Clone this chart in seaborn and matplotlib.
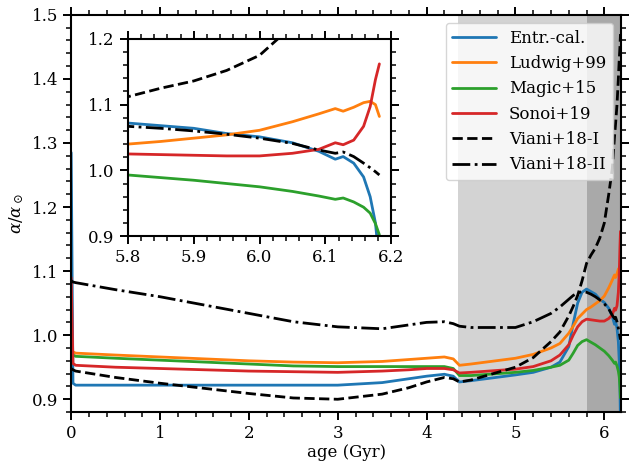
import numpy as np
import pandas as pd
import matplotlib
matplotlib.use('Agg')
import matplotlib.pyplot as plt
import seaborn as sns
from matplotlib.ticker import MultipleLocator, FormatStrFormatter

# stellar age grid (Gyr), shared by all models
age = [0.0, 0.02, 0.05, 0.5, 1.0, 1.5, 2.0, 2.5, 3.0, 3.5, 3.8, 4.0, 4.2, 4.3, 4.37,
       4.5, 5.0, 5.2, 5.4, 5.5, 5.6, 5.65, 5.7, 5.75, 5.8, 5.85, 5.9, 5.95, 6.0, 6.05,
       6.09, 6.115, 6.127, 6.143, 6.158, 6.168, 6.176, 6.182]

# alpha / alpha_sun for each calibration
entr_cal = [1.285, 0.925, 0.922, 0.922, 0.922, 0.922, 0.922, 0.922, 0.922, 0.926, 0.932, 0.936,
            0.939, 0.936, 0.927, 0.929, 0.938, 0.942, 0.950, 0.958, 0.982, 1.018, 1.050, 1.067,
            1.072, 1.068, 1.064, 1.056, 1.051, 1.042, 1.029, 1.017, 1.021, 1.011, 0.990, 0.960,
            0.920, 0.860]
ludwig = [0.982, 0.974, 0.972, 0.969, 0.966, 0.963, 0.960, 0.958, 0.957, 0.959, 0.962, 0.964,
          0.966, 0.963, 0.953, 0.955, 0.964, 0.970, 0.980, 0.987, 1.003, 1.014, 1.026, 1.033,
          1.040, 1.044, 1.049, 1.054, 1.061, 1.074, 1.086, 1.094, 1.090, 1.096, 1.103, 1.105,
          1.100, 1.082]
magic = [0.975, 0.969, 0.967, 0.964, 0.961, 0.958, 0.955, 0.952, 0.951, 0.951, 0.951, 0.951,
         0.951, 0.948, 0.937, 0.937, 0.942, 0.945, 0.950, 0.953, 0.961, 0.972, 0.984, 0.990,
         0.993, 0.989, 0.985, 0.980, 0.975, 0.968, 0.961, 0.956, 0.958, 0.952, 0.944, 0.935,
         0.919, 0.902]
sonoi = [1.090, 0.956, 0.953, 0.950, 0.948, 0.946, 0.944, 0.943, 0.942, 0.944, 0.946, 0.948,
         0.948, 0.946, 0.941, 0.942, 0.947, 0.951, 0.960, 0.969, 0.985, 1.000, 1.013, 1.021,
         1.025, 1.024, 1.023, 1.022, 1.022, 1.026, 1.032, 1.042, 1.039, 1.046, 1.067, 1.097,
         1.138, 1.162]
viani_1 = [0.948, 0.946, 0.944, 0.934, 0.925, 0.917, 0.909, 0.902, 0.900, 0.908, 0.918, 0.927,
           0.934, 0.932, 0.927, 0.930, 0.950, 0.965, 0.990, 1.005, 1.030, 1.045, 1.062, 1.085,
           1.112, 1.125, 1.136, 1.152, 1.175, 1.220, 1.260, 1.310, 1.330, 1.360, 1.400, 1.430,
           1.450, 1.470]
viani_2 = [1.085, 1.083, 1.082, 1.071, 1.060, 1.047, 1.034, 1.021, 1.013, 1.010, 1.016, 1.020,
           1.021, 1.018, 1.014, 1.012, 1.012, 1.021, 1.034, 1.044, 1.056, 1.062, 1.066, 1.068,
           1.067, 1.064, 1.060, 1.055, 1.049, 1.041, 1.031, 1.026, 1.028, 1.021, 1.011, 1.004,
           0.998, 0.993]

models = ['Entr.-cal.', 'Ludwig+99', 'Magic+15', 'Sonoi+19', 'Viani+18-I', 'Viani+18-II']
series = [entr_cal, ludwig, magic, sonoi, viani_1, viani_2]

# evolutionary phases shaded in the background
phase_edges = [4.35, 5.8, 6.2]

df = pd.concat([pd.DataFrame({'age': age, 'alpha': s, 'model': m})
                for m, s in zip(models, series)], ignore_index=True)

colors = {'Entr.-cal.': '#1f77b4', 'Ludwig+99': '#ff7f0e', 'Magic+15': '#2ca02c',
          'Sonoi+19': '#d62728', 'Viani+18-I': 'black', 'Viani+18-II': 'black'}
dashes = {'Entr.-cal.': '', 'Ludwig+99': '', 'Magic+15': '', 'Sonoi+19': '',
          'Viani+18-I': (3.7, 1.6), 'Viani+18-II': (6.4, 1.6, 1, 1.6)}

sns.set_style('ticks')
plt.rcParams['font.family'] = ['DejaVu Serif']
plt.rcParams['mathtext.fontset'] = 'dejavuserif'
plt.rcParams.update({
    'axes.linewidth': 1.5,
    'axes.edgecolor': 'black', 'axes.labelcolor': 'black', 'text.color': 'black',
    'xtick.color': 'black', 'ytick.color': 'black',
    'xtick.top': True, 'ytick.right': True,
    'xtick.major.size': 6, 'ytick.major.size': 6,
    'xtick.minor.size': 3.5, 'ytick.minor.size': 3.5,
    'xtick.major.width': 1.4, 'ytick.major.width': 1.4,
    'xtick.minor.width': 1.1, 'ytick.minor.width': 1.1,
    'xtick.labelsize': 12, 'ytick.labelsize': 12,
})

fig = plt.figure(figsize=(6.3, 4.63), dpi=100)
ax = fig.add_axes([0.113, 0.110, 0.873, 0.858])

ax.axvspan(phase_edges[0], phase_edges[1], color='lightgray', lw=0, zorder=0)
ax.axvspan(phase_edges[1], phase_edges[2], color='darkgray', lw=0, zorder=0)

sns.lineplot(data=df, x='age', y='alpha', hue='model', style='model', hue_order=models,
             style_order=models, palette=colors, dashes=dashes, sort=False, estimator=None,
             lw=2, ax=ax)

ax.set_xlim(0, 6.19)
ax.set_ylim(0.88, 1.5)
ax.xaxis.set_major_locator(MultipleLocator(1))
ax.xaxis.set_minor_locator(MultipleLocator(0.2))
ax.yaxis.set_major_locator(MultipleLocator(0.1))
ax.yaxis.set_minor_locator(MultipleLocator(0.02))
ax.yaxis.set_major_formatter(FormatStrFormatter('%.1f'))
ax.set_xlabel('age (Gyr)', fontsize=12, labelpad=1)
ax.set_ylabel(r'$\alpha/\alpha_\odot$', fontsize=12)
ax.legend(loc='upper right', fontsize=12, handlelength=2.6)

# zoom on the last part of the evolution
axins = fig.add_axes([0.203, 0.490, 0.418, 0.426])
sns.lineplot(data=df, x='age', y='alpha', hue='model', style='model', hue_order=models,
             style_order=models, palette=colors, dashes=dashes, sort=False, estimator=None,
             lw=2, legend=False, ax=axins)
axins.set_xlim(5.8, 6.2)
axins.set_ylim(0.9, 1.2)
axins.xaxis.set_major_locator(MultipleLocator(0.1))
axins.xaxis.set_minor_locator(MultipleLocator(0.02))
axins.yaxis.set_major_locator(MultipleLocator(0.1))
axins.yaxis.set_minor_locator(MultipleLocator(0.02))
axins.xaxis.set_major_formatter(FormatStrFormatter('%.1f'))
axins.yaxis.set_major_formatter(FormatStrFormatter('%.1f'))
axins.set_xlabel('')
axins.set_ylabel('')

fig.savefig('out.png', dpi=100)
